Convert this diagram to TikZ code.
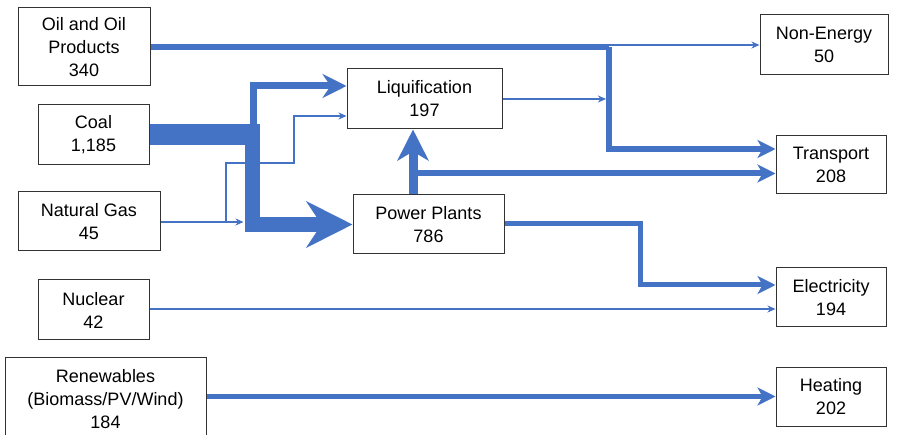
\documentclass[tikz,border=0pt]{standalone}
\usepackage{fontspec}
\setmainfont{Liberation Sans}
\usetikzlibrary{arrows.meta,calc}
\definecolor{flow}{HTML}{4472C4}
\begin{document}
\begin{tikzpicture}[x=1pt,y=-1pt,
  box/.style={draw=black!80,line width=1pt,fill=white,align=center,inner sep=0pt,font=\fontsize{18}{23}\selectfont},
  flowline/.style={draw=flow,line join=miter},
  thinflow/.style={flowline,line width=1.5pt,-{Stealth[length=8pt,width=7pt,inset=2.5pt]}},
  midflow/.style={flowline,line width=5pt,-{Stealth[length=18pt,width=18pt,inset=5pt]}},
  wideflow/.style={flowline,line width=6pt,-{Stealth[length=18pt,width=18pt,inset=5pt]}}
]
\useasboundingbox (0,0) rectangle (899,435);
\clip (0,0) rectangle (899,435);

% nodes
\node[box,minimum width=132pt,minimum height=78pt] (oil) at (84,47) {Oil and Oil\\Products\\340};
\node[box,minimum width=111pt,minimum height=60pt] (coal) at (93.5,135) {Coal\\1,185};
\node[box,minimum width=142pt,minimum height=59pt] (gas) at (89,221.5) {Natural Gas\\45};
\node[box,minimum width=111pt,minimum height=60pt] (nuc) at (93.5,310) {Nuclear\\42};
\node[box,minimum width=201pt,minimum height=84pt] (ren) at (105.5,399) {Renewables\\(Biomass/PV/Wind)\\184};
\node[box,minimum width=155pt,minimum height=60pt] (liq) at (424.5,99) {Liquification\\197};
\node[box,minimum width=151pt,minimum height=59pt] (pp) at (428.5,224.5) {Power Plants\\786};
\node[box,minimum width=128pt,minimum height=60pt] (non) at (824,45) {Non-Energy\\50};
\node[box,minimum width=110pt,minimum height=58pt] (tra) at (831,165) {Transport\\208};
\node[box,minimum width=110pt,minimum height=59pt] (ele) at (831,297.5) {Electricity\\194};
\node[box,minimum width=110pt,minimum height=59pt] (hea) at (831,396.5) {Heating\\202};

% helper coordinates
\coordinate (oj) at (609,47);
\coordinate (pj) at (640,224);
\coordinate (gj) at (226,222);
\coordinate (ppb) at (252,224.5);
\coordinate (nj) at (0,309);
\coordinate (tj) at (413,173.5);

% oil
\draw[flowline,line width=6pt] (oil.east |- oj) -- (oj);
\draw[wideflow] (oj) -- (609,149) -- ($(tra.west)+(0,-16)$);
\draw[thinflow] (609,45) -- (non.west);

% coal
\draw[flowline,line width=21pt] (coal.east) -- (259.5,135);
\draw[flowline,line width=7pt,-{Stealth[length=24pt,width=24pt,inset=8pt]}] (253.5,128) -- (253.5,86) -- ($(liq.west)+(0,-13)$);
\draw[flowline,line width=15pt,-{Stealth[length=46pt,width=46pt,inset=15pt]}] (252,124.5) -- (ppb) -- (pp.west);

% natural gas
\draw[thinflow] (gas.east |- gj) -- (243.5,222);
\draw[thinflow] (gj) -- (226,163) -- (294,163) -- (294,116) -- ($(liq.west)+(0,17)$);

% power plants
\draw[flowline,line width=9pt,-{Stealth[length=31pt,width=31pt,inset=9pt]}] ($(pp.north)+(-15.5,0)$) -- ($(liq.south)+(-11.5,0)$);
\draw[wideflow] (tj) -- ($(tra.west)+(0,8.5)$);
\draw[midflow] (pp.east |- pj) -- (pj) -- (640,285) -- ($(ele.west)+(0,-12.5)$);

% liquification
\draw[thinflow] (liq.east) -- (606,99);

% nuclear
\draw[thinflow] (nuc.east |- nj) -- ($(ele.west)+(0,11.5)$);

% renewables
\draw[midflow] (ren.east |- hea.west) -- (hea.west);
\end{tikzpicture}
\end{document}
